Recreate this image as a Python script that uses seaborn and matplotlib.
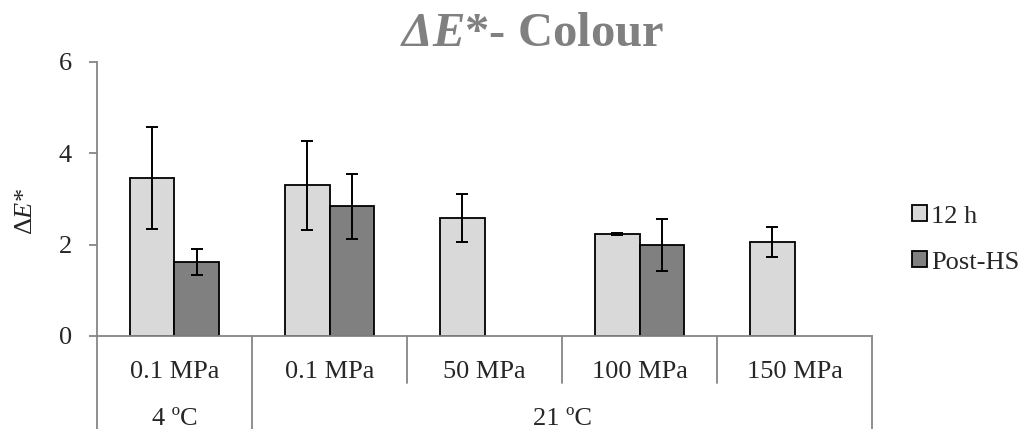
# delta_e_colour.py
# Bar chart of Delta E* colour change, 12 h vs Post-HS

import numpy as np
import pandas as pd
import matplotlib
matplotlib.use("Agg")
import matplotlib.pyplot as plt
import matplotlib.transforms as mtransforms
from matplotlib.patches import Patch
import seaborn as sns

# Data
pressures = ["0.1 MPa", "0.1 MPa ", "50 MPa", "100 MPa", "150 MPa"]
pressure_labels = ["0.1 MPa", "0.1 MPa", "50 MPa", "100 MPa", "150 MPa"]
temperatures = ["4 ºC", "21 ºC"]
temp_spans = [1, 4]  # number of pressure groups under each temperature
series = ["12 h", "Post-HS"]
vals_12h = [3.46, 3.30, 2.58, 2.23, 2.05]
err_12h = [1.11, 0.98, 0.53, 0.02, 0.33]
vals_post = [1.62, 2.84, np.nan, 1.99, np.nan]
err_post = [0.28, 0.71, np.nan, 0.57, np.nan]

colors = {"12 h": "#d9d9d9", "Post-HS": "#808080"}
axis_grey = "#868686"
FS = 19

sns.set_style("white")
plt.rcParams["font.family"] = ["Liberation Serif", "DejaVu Serif"]
plt.rcParams["mathtext.fontset"] = "custom"
plt.rcParams["mathtext.rm"] = "Liberation Serif"
plt.rcParams["mathtext.it"] = "Liberation Serif:italic"
plt.rcParams["mathtext.bf"] = "Liberation Serif:bold"
plt.rcParams["mathtext.bfit"] = "Liberation Serif:bold:italic"

df = pd.DataFrame({
    "pressure": pressures * 2,
    "series": [series[0]] * 5 + [series[1]] * 5,
    "value": vals_12h + vals_post,
})
errs = {series[0]: err_12h, series[1]: err_post}

fig = plt.figure(figsize=(10.24, 4.29), dpi=100)
ax = fig.add_axes([0.0947, 0.2168, 0.757, 0.6387])

sns.barplot(data=df, x="pressure", y="value", hue="series", order=pressures,
            hue_order=series, palette=colors, edgecolor="black", linewidth=1.3,
            width=0.574, errorbar=None, legend=False, ax=ax)

# error bars from bar geometry
for cont, name in zip(ax.containers, series):
    for bar in cont:
        xc = bar.get_x() + bar.get_width() / 2
        h = bar.get_height()
        if np.isnan(h):
            continue
        idx = int(round(xc))
        ax.errorbar(xc, h, yerr=errs[name][idx], fmt="none", ecolor="black",
                    elinewidth=1.4, capsize=4, capthick=1.4, zorder=5)

ax.set_ylim(0, 6)
ax.set_xlim(-0.5, 4.5)
ax.set_yticks([0, 2, 4, 6])
ax.set_xticks(range(5))
ax.set_xticklabels([])
ax.set_xlabel("")
ax.set_ylabel(r"$\Delta\mathit{E}$*", fontsize=FS)
ax.yaxis.set_label_coords(-0.078, 0.456)
ax.tick_params(axis="y", labelsize=FS, length=6, width=1.3, color=axis_grey,
               pad=12, left=True)
ax.tick_params(axis="x", length=0)
for s in ["top", "right"]:
    ax.spines[s].set_visible(False)
for s in ["left", "bottom"]:
    ax.spines[s].set_color(axis_grey)
    ax.spines[s].set_linewidth(1.3)

# two-level category axis: pressure labels, divider lines, temperature labels
trans = mtransforms.blended_transform_factory(ax.transData, ax.transAxes)
for i, lab in enumerate(pressure_labels):
    ax.text(i, -0.153, lab, transform=trans, ha="center", va="baseline",
            fontsize=FS)
bottom = -0.34
edges = np.arange(-0.5, 5.0, 1.0)
temp_edges = np.concatenate([[-0.5], -0.5 + np.cumsum(temp_spans)])
for e in edges:
    y_low = bottom if e in temp_edges else -0.172
    ax.plot([e, e], [0, y_low], transform=trans, color=axis_grey, lw=1.3,
            clip_on=False)
for t, lo, hi in zip(temperatures, temp_edges[:-1], temp_edges[1:]):
    ax.text((lo + hi) / 2, -0.325, t, transform=trans, ha="center",
            va="baseline", fontsize=FS)

fig.suptitle(r"$\mathbfit{\Delta E}$*- Colour", x=0.52, y=0.972, va="top",
             fontsize=35, fontweight="bold", color="#808080")

handles = [Patch(facecolor=colors[s], edgecolor="black", lw=1.3) for s in series]
fig.legend(handles, series, loc="center left", bbox_to_anchor=(0.891, 0.442),
           frameon=False, fontsize=FS, borderpad=0, borderaxespad=0,
           handlelength=0.55, handleheight=0.55, handletextpad=0.15,
           labelspacing=0.9)

fig.savefig("out.png", dpi=100)
print("Saved: out.png")
